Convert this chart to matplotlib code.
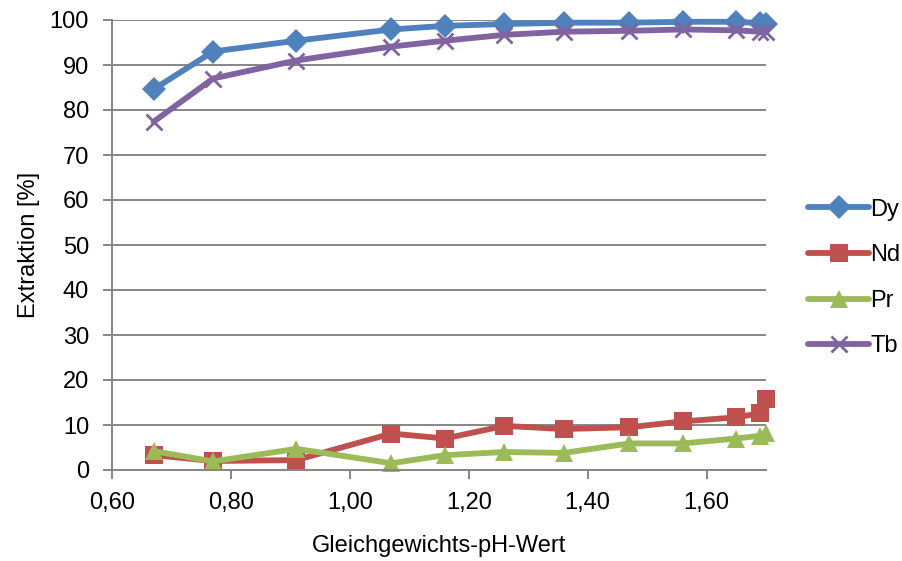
import matplotlib
matplotlib.use("Agg")
import matplotlib.pyplot as plt
from matplotlib.ticker import FuncFormatter, MultipleLocator

plt.rcParams['font.family'] = ['Liberation Sans', 'DejaVu Sans']

# Equilibrium pH and extraction per element
ph = [0.67, 0.77, 0.91, 1.07, 1.16, 1.26, 1.36, 1.47, 1.56, 1.65, 1.69, 1.70]
dy = [84.6, 93.0, 95.4, 97.9, 98.7, 99.1, 99.4, 99.4, 99.6, 99.6, 99.3, 99.1]
nd = [3.3, 2.0, 2.2, 8.1, 7.0, 9.8, 9.1, 9.5, 10.8, 11.7, 12.6, 15.7]
pr = [4.2, 1.9, 4.7, 1.5, 3.3, 4.0, 3.8, 5.9, 5.9, 7.0, 7.6, 8.2]
tb = [77.4, 87.0, 91.0, 94.1, 95.4, 96.7, 97.4, 97.6, 97.9, 97.7, 97.4, 97.3]

series = [
    ("Dy", dy, "#4F81BD", "D", 12),
    ("Nd", nd, "#C0504D", "s", 13),
    ("Pr", pr, "#9BBB59", "^", 13),
    ("Tb", tb, "#8064A2", "x", 12),
]

FS = 17

fig = plt.figure(figsize=(9.02, 5.61), dpi=100)
ax = fig.add_axes([112 / 902, 1 - 470 / 561, (766 - 112) / 902, 450 / 561])

for name, vals, col, mk, ms in series:
    kw = dict(markeredgewidth=2) if mk == "x" else dict(markeredgewidth=0)
    ax.plot(ph, vals, color=col, lw=4.2, marker=mk, markersize=ms,
            markerfacecolor=col, markeredgecolor=col, label=name,
            solid_capstyle="round", solid_joinstyle="round", clip_on=False, **kw)

ax.set_xlim(0.60, 1.70)
ax.set_ylim(0, 100)
ax.xaxis.set_major_locator(MultipleLocator(0.2))
ax.yaxis.set_major_locator(MultipleLocator(10))
ax.xaxis.set_major_formatter(FuncFormatter(lambda v, p: f"{v:.2f}".replace(".", ",")))
ax.yaxis.set_major_formatter(FuncFormatter(lambda v, p: f"{v:.0f}"))

ax.grid(axis="y", color="#868686", lw=1.4)
ax.set_axisbelow(True)
for s in ("top", "right"):
    ax.spines[s].set_visible(False)
for s in ("left", "bottom"):
    ax.spines[s].set_color("#868686")
    ax.spines[s].set_linewidth(1.4)
ax.tick_params(axis="both", colors="#868686", labelcolor="black", labelsize=FS,
               length=6.5, width=1.4, direction="out")
ax.tick_params(axis="x", pad=9.5)
ax.tick_params(axis="y", pad=10)

ax.set_xlabel("Gleichgewichts-pH-Wert", fontsize=FS, labelpad=15)
ax.set_ylabel("Extraktion [%]", fontsize=FS, labelpad=7)

ax.legend(loc="center left", bbox_to_anchor=(808 / 902, 1 - 278 / 561),
          bbox_transform=fig.transFigure, frameon=False, borderpad=0,
          borderaxespad=0, fontsize=FS, handlelength=2.6, handletextpad=0.05,
          labelspacing=1.0)

fig.savefig("out.png", dpi=100)
